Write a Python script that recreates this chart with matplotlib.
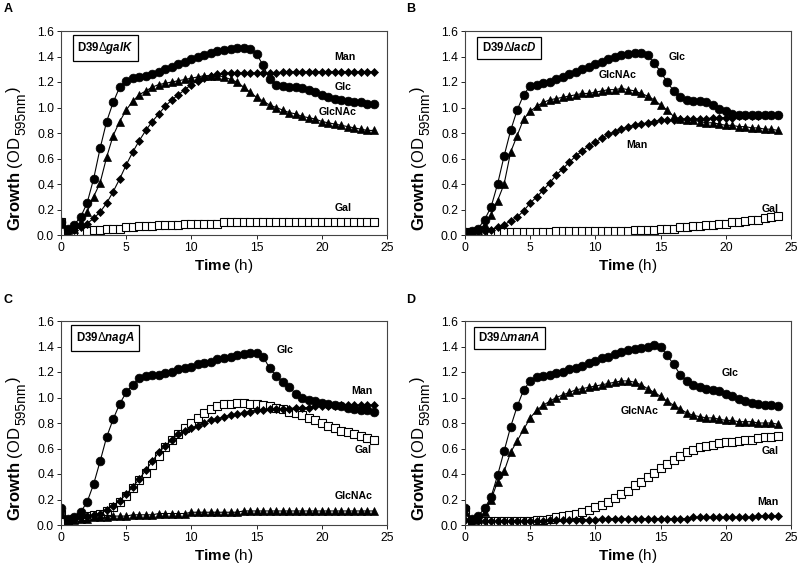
import numpy as np
import matplotlib.pyplot as plt

plt.rcParams['font.family'] = ['Liberation Sans', 'DejaVu Sans']
plt.rcParams['mathtext.fontset'] = 'custom'
plt.rcParams['mathtext.rm'] = 'Liberation Sans'
plt.rcParams['mathtext.bf'] = 'Liberation Sans:bold'
plt.rcParams['mathtext.it'] = 'Liberation Sans:italic'
plt.rcParams['mathtext.bfit'] = 'Liberation Sans:bold:italic'

# sampling times (h), every 30 min
time_h = np.arange(0, 24.5, 0.5)

# ---- panel A: D39 galK ----
a_glc = [0.10, 0.05, 0.08, 0.14, 0.25, 0.44, 0.68, 0.89, 1.04, 1.16,
         1.21, 1.23, 1.24, 1.25, 1.26, 1.28, 1.30, 1.32, 1.34, 1.36,
         1.38, 1.40, 1.41, 1.43, 1.44, 1.45, 1.46, 1.47, 1.47, 1.46,
         1.42, 1.33, 1.22, 1.18, 1.17, 1.16, 1.16, 1.15, 1.14, 1.12,
         1.10, 1.08, 1.07, 1.06, 1.05, 1.04, 1.04, 1.03, 1.03]
a_glcnac = [0.09, 0.04, 0.05, 0.10, 0.18, 0.30, 0.41, 0.61, 0.78, 0.89,
            0.98, 1.05, 1.10, 1.13, 1.16, 1.18, 1.19, 1.20, 1.21, 1.22,
            1.23, 1.24, 1.25, 1.25, 1.25, 1.24, 1.22, 1.20, 1.16, 1.12,
            1.08, 1.05, 1.02, 1.00, 0.98, 0.96, 0.95, 0.93, 0.92, 0.91,
            0.89, 0.88, 0.87, 0.86, 0.85, 0.84, 0.83, 0.82, 0.82]
a_man = [0.10, 0.04, 0.04, 0.06, 0.09, 0.13, 0.18, 0.25, 0.34, 0.44,
         0.55, 0.65, 0.74, 0.82, 0.89, 0.95, 1.01, 1.06, 1.10, 1.14,
         1.18, 1.21, 1.23, 1.25, 1.26, 1.27, 1.27, 1.27, 1.27, 1.27,
         1.27, 1.27, 1.27, 1.27, 1.28, 1.28, 1.28, 1.28, 1.28, 1.28,
         1.28, 1.28, 1.28, 1.28, 1.28, 1.28, 1.28, 1.28, 1.28]
a_gal = [0.10, 0.04, 0.03, 0.03, 0.03, 0.04, 0.04, 0.05, 0.05, 0.05,
         0.06, 0.06, 0.07, 0.07, 0.07, 0.08, 0.08, 0.08, 0.08, 0.09,
         0.09, 0.09, 0.09, 0.09, 0.09, 0.10, 0.10, 0.10, 0.10, 0.10,
         0.10, 0.10, 0.10, 0.10, 0.10, 0.10, 0.10, 0.10, 0.10, 0.10,
         0.10, 0.10, 0.10, 0.10, 0.10, 0.10, 0.10, 0.10, 0.10]

# ---- panel B: D39 lacD ----
b_glc = [0.02, 0.03, 0.05, 0.12, 0.22, 0.40, 0.62, 0.82, 0.98, 1.10,
         1.17, 1.18, 1.19, 1.20, 1.22, 1.24, 1.26, 1.28, 1.30, 1.32,
         1.34, 1.36, 1.38, 1.40, 1.41, 1.42, 1.43, 1.43, 1.41, 1.35,
         1.28, 1.20, 1.13, 1.08, 1.06, 1.05, 1.05, 1.04, 1.02, 0.99,
         0.97, 0.95, 0.94, 0.94, 0.94, 0.94, 0.94, 0.94, 0.94]
b_glcnac = [0.02, 0.02, 0.04, 0.08, 0.16, 0.27, 0.40, 0.65, 0.78, 0.91,
            0.97, 1.01, 1.04, 1.06, 1.07, 1.08, 1.09, 1.10, 1.11, 1.11,
            1.12, 1.13, 1.14, 1.14, 1.15, 1.14, 1.13, 1.11, 1.09, 1.06,
            1.02, 0.98, 0.93, 0.91, 0.90, 0.90, 0.89, 0.88, 0.88, 0.87,
            0.86, 0.86, 0.85, 0.85, 0.84, 0.84, 0.83, 0.83, 0.82]
b_man = [0.02, 0.02, 0.03, 0.03, 0.04, 0.06, 0.08, 0.11, 0.14, 0.19,
         0.25, 0.30, 0.35, 0.41, 0.47, 0.52, 0.57, 0.62, 0.66, 0.70,
         0.73, 0.76, 0.79, 0.81, 0.83, 0.85, 0.86, 0.87, 0.88, 0.89,
         0.90, 0.90, 0.90, 0.91, 0.91, 0.91, 0.91, 0.91, 0.92, 0.92,
         0.92, 0.92, 0.93, 0.93, 0.93, 0.93, 0.94, 0.94, 0.94]
b_gal = [0.02, 0.02, 0.02, 0.02, 0.02, 0.02, 0.02, 0.02, 0.02, 0.02,
         0.02, 0.02, 0.02, 0.02, 0.03, 0.03, 0.03, 0.03, 0.03, 0.03,
         0.03, 0.03, 0.03, 0.03, 0.03, 0.03, 0.04, 0.04, 0.04, 0.04,
         0.05, 0.05, 0.05, 0.06, 0.06, 0.07, 0.07, 0.08, 0.08, 0.09,
         0.09, 0.10, 0.10, 0.11, 0.12, 0.12, 0.13, 0.14, 0.15]

# ---- panel C: D39 nagA ----
c_glc = [0.13, 0.05, 0.06, 0.10, 0.18, 0.32, 0.50, 0.69, 0.83, 0.95,
         1.04, 1.10, 1.15, 1.17, 1.18, 1.18, 1.19, 1.20, 1.22, 1.23,
         1.24, 1.26, 1.27, 1.28, 1.30, 1.31, 1.32, 1.33, 1.34, 1.35,
         1.35, 1.32, 1.23, 1.17, 1.12, 1.08, 1.03, 1.00, 0.98, 0.97,
         0.96, 0.95, 0.94, 0.93, 0.92, 0.91, 0.90, 0.90, 0.89]
c_glcnac = [0.09, 0.04, 0.04, 0.05, 0.05, 0.06, 0.06, 0.06, 0.07, 0.07,
            0.07, 0.08, 0.08, 0.08, 0.08, 0.09, 0.09, 0.09, 0.09, 0.09,
            0.10, 0.10, 0.10, 0.10, 0.10, 0.10, 0.10, 0.10, 0.11, 0.11,
            0.11, 0.11, 0.11, 0.11, 0.11, 0.11, 0.11, 0.11, 0.11, 0.11,
            0.11, 0.11, 0.11, 0.11, 0.11, 0.11, 0.11, 0.11, 0.11]
c_man = [0.11, 0.04, 0.05, 0.06, 0.07, 0.08, 0.09, 0.12, 0.15, 0.19,
         0.24, 0.30, 0.36, 0.43, 0.50, 0.57, 0.62, 0.67, 0.71, 0.74,
         0.76, 0.78, 0.80, 0.82, 0.83, 0.85, 0.86, 0.87, 0.88, 0.89,
         0.90, 0.90, 0.91, 0.91, 0.91, 0.91, 0.92, 0.92, 0.92, 0.93,
         0.93, 0.93, 0.93, 0.94, 0.94, 0.94, 0.94, 0.94, 0.94]
c_gal = [0.09, 0.04, 0.05, 0.06, 0.07, 0.08, 0.09, 0.11, 0.14, 0.18,
         0.23, 0.29, 0.35, 0.41, 0.47, 0.54, 0.61, 0.67, 0.71, 0.76,
         0.80, 0.84, 0.88, 0.91, 0.93, 0.95, 0.95, 0.96, 0.96, 0.95,
         0.95, 0.94, 0.93, 0.92, 0.91, 0.89, 0.88, 0.86, 0.84, 0.82,
         0.80, 0.78, 0.76, 0.74, 0.73, 0.71, 0.70, 0.68, 0.67]

# ---- panel D: D39 manA ----
d_glc = [0.13, 0.05, 0.07, 0.13, 0.22, 0.39, 0.58, 0.77, 0.93, 1.06,
         1.13, 1.16, 1.17, 1.18, 1.19, 1.20, 1.22, 1.23, 1.25, 1.27,
         1.29, 1.31, 1.32, 1.34, 1.36, 1.37, 1.38, 1.39, 1.40, 1.41,
         1.40, 1.33, 1.26, 1.18, 1.13, 1.10, 1.08, 1.07, 1.06, 1.05,
         1.03, 1.01, 0.99, 0.97, 0.96, 0.95, 0.94, 0.94, 0.93]
d_glcnac = [0.10, 0.04, 0.05, 0.10, 0.20, 0.34, 0.42, 0.57, 0.66, 0.75,
            0.84, 0.90, 0.94, 0.97, 1.00, 1.02, 1.04, 1.06, 1.07, 1.08,
            1.09, 1.10, 1.11, 1.12, 1.13, 1.13, 1.12, 1.10, 1.07, 1.04,
            1.01, 0.97, 0.94, 0.91, 0.88, 0.86, 0.85, 0.84, 0.84, 0.83,
            0.82, 0.82, 0.81, 0.81, 0.81, 0.80, 0.80, 0.80, 0.79]
d_man = [0.04, 0.03, 0.03, 0.03, 0.03, 0.03, 0.03, 0.03, 0.03, 0.03,
         0.03, 0.03, 0.03, 0.04, 0.04, 0.04, 0.04, 0.04, 0.04, 0.04,
         0.04, 0.05, 0.05, 0.05, 0.05, 0.05, 0.05, 0.05, 0.05, 0.05,
         0.05, 0.05, 0.05, 0.05, 0.05, 0.06, 0.06, 0.06, 0.06, 0.06,
         0.06, 0.06, 0.06, 0.06, 0.06, 0.07, 0.07, 0.07, 0.07]
d_gal = [0.12, 0.04, 0.03, 0.03, 0.03, 0.03, 0.03, 0.03, 0.03, 0.03,
         0.03, 0.04, 0.04, 0.05, 0.06, 0.07, 0.08, 0.09, 0.10, 0.12,
         0.14, 0.16, 0.18, 0.21, 0.24, 0.27, 0.31, 0.34, 0.38, 0.41,
         0.45, 0.48, 0.51, 0.54, 0.57, 0.59, 0.61, 0.62, 0.63, 0.64,
         0.65, 0.65, 0.66, 0.67, 0.67, 0.68, 0.69, 0.69, 0.70]

panel_letters = ['A', 'B', 'C', 'D']
strain_genes = ['galK', 'lacD', 'nagA', 'manA']

# label positions (data coords) for each curve name, per panel
label_pos = [
    {'Man': (21.8, 1.40), 'Glc': (21.6, 1.16), 'GlcNAc': (21.2, 0.965), 'Gal': (21.6, 0.21)},
    {'Glc': (16.3, 1.40), 'GlcNAc': (11.7, 1.255), 'Man': (13.2, 0.705), 'Gal': (23.4, 0.205)},
    {'Glc': (17.2, 1.373), 'Man': (23.1, 1.05), 'Gal': (23.2, 0.588), 'GlcNAc': (22.4, 0.227)},
    {'Glc': (20.3, 1.19), 'GlcNAc': (13.4, 0.894), 'Gal': (23.4, 0.58), 'Man': (23.2, 0.18)},
]

panels = [
    {'Glc': a_glc, 'GlcNAc': a_glcnac, 'Man': a_man, 'Gal': a_gal},
    {'Glc': b_glc, 'GlcNAc': b_glcnac, 'Man': b_man, 'Gal': b_gal},
    {'Glc': c_glc, 'GlcNAc': c_glcnac, 'Man': c_man, 'Gal': c_gal},
    {'Glc': d_glc, 'GlcNAc': d_glcnac, 'Man': d_man, 'Gal': d_gal},
]

styles = {
    'Gal': dict(marker='s', ms=5.6, mfc='white', mec='black', mew=0.8),
    'Man': dict(marker='D', ms=4.3, mfc='black', mec='black', mew=0.5),
    'GlcNAc': dict(marker='^', ms=6.0, mfc='black', mec='black', mew=0.5),
    'Glc': dict(marker='o', ms=6.3, mfc='black', mec='black', mew=0.5),
}

fig = plt.figure(figsize=(8.0, 5.68), dpi=100)

ax_boxes = [
    [61/800, 1 - 235/568, 326/800, 204/568],
    [465/800, 1 - 235/568, 326/800, 204/568],
    [61/800, 1 - 525/568, 326/800, 204/568],
    [465/800, 1 - 525/568, 326/800, 204/568],
]
letter_xy = [(0.005, 0.994), (0.508, 0.994), (0.005, 0.482), (0.508, 0.482)]

for i in range(4):
    ax = fig.add_axes(ax_boxes[i])
    for name in ['Gal', 'Man', 'GlcNAc', 'Glc']:
        ax.plot(time_h, panels[i][name], color='black', lw=0.8,
                **styles[name])
    for name, (lx, ly) in label_pos[i].items():
        ax.text(lx, ly, name, fontsize=7.6, fontweight='bold',
                ha='center', va='center')

    ax.text(3.4, 1.467, r'$\mathbf{D39}\Delta\mathbfit{' + strain_genes[i] + '}$',
            fontsize=8.3, ha='center', va='center',
            bbox=dict(boxstyle='square,pad=0.4', facecolor='white',
                      edgecolor='black', linewidth=0.9))

    ax.set_xlim(0, 25)
    ax.set_ylim(0, 1.6)
    ax.set_xticks([0, 5, 10, 15, 20, 25])
    ax.set_yticks(np.arange(0, 1.61, 0.2))
    ax.yaxis.set_major_formatter(plt.FormatStrFormatter('%.1f'))
    ax.tick_params(direction='out', length=3, width=0.6, labelsize=8.8,
                   colors='black', pad=2)
    for sp in ax.spines.values():
        sp.set_linewidth(0.8)
        sp.set_color('#444444')
    ax.set_xlabel(r'$\mathbf{Time}$ (h)', fontsize=11, labelpad=2)

    # y label built from pieces so the subscript stays large
    t1 = ax.text(-0.168, 0.02, r'$\mathbf{Growth}$ (OD', fontsize=12,
                 rotation=90, ha='left', va='bottom', transform=ax.transAxes)
    t2 = ax.annotate('595nm', xy=(1, 1), xycoords=t1, xytext=(2.0, 1.0),
                     textcoords='offset points', fontsize=10, rotation=90,
                     ha='right', va='bottom')
    ax.annotate(')', xy=(0, 1), xycoords=(t1, t2), xytext=(0, 0.5),
                textcoords='offset points', fontsize=12,
                rotation=90, ha='left', va='bottom')

    fig.text(letter_xy[i][0], letter_xy[i][1], panel_letters[i],
             fontsize=9, fontweight='bold', ha='left', va='top')

fig.savefig('out.png', dpi=100, facecolor='white')
